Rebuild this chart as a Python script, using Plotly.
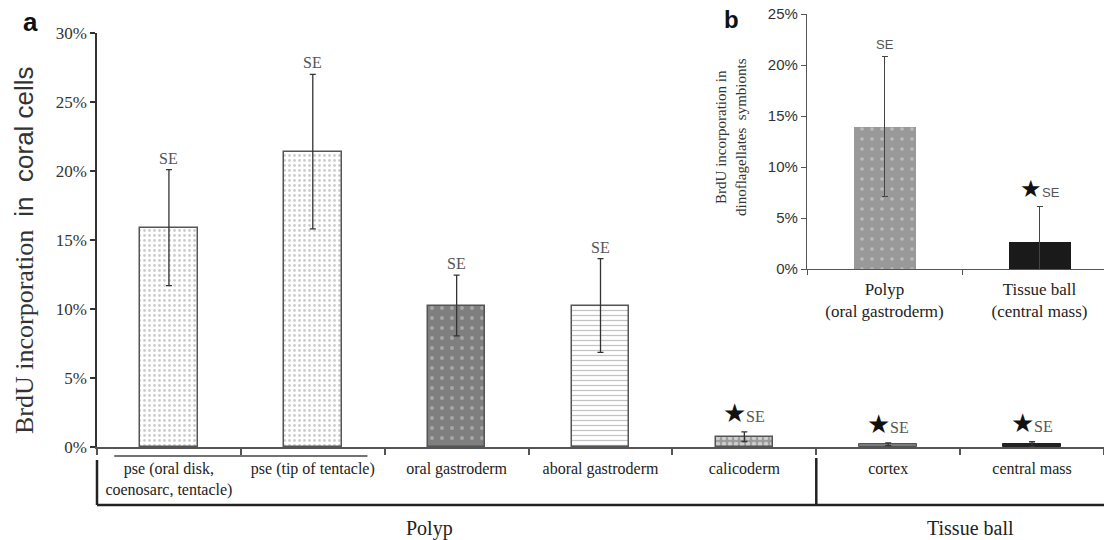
import plotly.graph_objects as go

# ---- Panel a data ----
cats_a = ["pse (oral disk,<br>coenosarc, tentacle)", "pse (tip of tentacle)", "oral gastroderm",
          "aboral gastroderm", "calicoderm", "cortex", "central mass"]
vals_a = [0.159, 0.214, 0.1025, 0.1025, 0.0075, 0.002, 0.002]
se_a = [0.042, 0.056, 0.022, 0.034, 0.0035, 0.001, 0.0018]
star_a = [False, False, False, False, True, True, True]
yticks_a = [0, 0.05, 0.10, 0.15, 0.20, 0.25, 0.30]
yticktext_a = ["0%", "5%", "10%", "15%", "20%", "25%", "30%"]
groups = ["Polyp", "Tissue ball"]
group_pos = [1.81, 5.57]

# ---- Panel b data ----
cats_b = ["Polyp<br>(oral gastroderm)", "Tissue ball<br>(central mass)"]
vals_b = [0.1395, 0.026]
se_b = [0.0685, 0.035]
star_b = [False, True]
yticks_b = [0, 0.05, 0.10, 0.15, 0.20, 0.25]
yticktext_b = ["0%", "5%", "10%", "15%", "20%", "25%"]

W, H = 1104, 540
SERIF = "Liberation Serif, Times New Roman, serif"
SANS = "Liberation Sans, Arial, sans-serif"

def px(x):
    return x / W

def py(y):
    return 1 - y / H

# bar styles panel a
styles_a = [
    dict(color="white", line=dict(color="#555", width=1.5),
         pattern=dict(shape=".", fgcolor="#9a9a9a", bgcolor="white", size=5, solidity=0.25)),
    dict(color="white", line=dict(color="#555", width=1.5),
         pattern=dict(shape=".", fgcolor="#9a9a9a", bgcolor="white", size=5, solidity=0.25)),
    dict(color="#7f7f7f", line=dict(color="#555", width=1.5),
         pattern=dict(shape=".", fgcolor="#d0d0d0", bgcolor="#7f7f7f", size=10, solidity=0.12)),
    dict(color="white", line=dict(color="#555", width=1.5),
         pattern=dict(shape="-", fgcolor="#888", bgcolor="white", size=5, solidity=0.25)),
    dict(color="#999", line=dict(color="#555", width=1.5),
         pattern=dict(shape=".", fgcolor="white", bgcolor="#9a9a9a", size=6, solidity=0.45)),
    dict(color="#7a7a7a", line=dict(color="#555", width=1)),
    dict(color="#222", line=dict(color="#222", width=1)),
]

fig = go.Figure()

for i in range(len(cats_a)):
    fig.add_trace(go.Bar(
        x=[cats_a[i]], y=[vals_a[i]], width=0.4, marker=styles_a[i],
        error_y=dict(type="data", array=[se_a[i]], visible=True, color="#333",
                     thickness=1.3, width=3),
        xaxis="x", yaxis="y", showlegend=False, hoverinfo="skip"))

styles_b = [
    dict(color="#999", line=dict(width=0),
         pattern=dict(shape=".", fgcolor="#e0e0e0", bgcolor="#999", size=10, solidity=0.1)),
    dict(color="#1a1a1a", line=dict(width=0)),
]
for i in range(len(cats_b)):
    fig.add_trace(go.Bar(
        x=[cats_b[i]], y=[vals_b[i]], width=0.4, marker=styles_b[i],
        error_y=dict(type="data", array=[se_b[i]], visible=True, color="#444",
                     thickness=1.3, width=3),
        xaxis="x2", yaxis="y2", showlegend=False, hoverinfo="skip"))

annotations = []
# SE labels panel a
for i, c in enumerate(cats_a):
    if star_a[i]:
        txt = "<span style='font-size:26px;color:#111'>★</span>SE"
        ys = 2
    else:
        txt = "SE"
        ys = 1
    annotations.append(dict(x=c, y=vals_a[i] + se_a[i], xref="x", yref="y", text=txt,
                            showarrow=False, yanchor="bottom", yshift=ys,
                            font=dict(family=SERIF, size=16, color="#555")))
# SE labels panel b
for i, c in enumerate(cats_b):
    if star_b[i]:
        txt = "<span style='font-size:24px;color:#111'>★</span>SE"
    else:
        txt = "SE"
    annotations.append(dict(x=c, y=vals_b[i] + se_b[i], xref="x2", yref="y2", text=txt,
                            showarrow=False, yanchor="bottom", yshift=3,
                            font=dict(family=SANS, size=13, color="#555")))

# group labels
for g, p in zip(groups, group_pos):
    annotations.append(dict(x=p, y=py(528), xref="x", yref="paper", text=g, showarrow=False,
                            yanchor="middle",
                            font=dict(family=SERIF, size=20, color="#222")))

# axis titles
annotations.append(dict(x=px(24), y=py(250), xref="paper", yref="paper", textangle=-90,
                        showarrow=False, xanchor="center", yanchor="middle",
                        text="BrdU incorporation  <span style='font-family:Liberation Sans, Arial, sans-serif'>in  coral cells</span>",
                        font=dict(family=SERIF, size=26, color="#333")))
annotations.append(dict(x=px(731), y=py(137), xref="paper", yref="paper", textangle=-90,
                        showarrow=False, xanchor="center", yanchor="middle",
                        text="BrdU incorporation in<br>dinoflagellates  symbionts",
                        font=dict(family=SERIF, size=15, color="#333")))
# panel letters
annotations.append(dict(x=px(30), y=py(22), xref="paper", yref="paper", text="<b>a</b>",
                        showarrow=False, xanchor="center", yanchor="middle",
                        font=dict(family=SANS, size=26, color="#111")))
annotations.append(dict(x=px(731), y=py(19), xref="paper", yref="paper", text="<b>b</b>",
                        showarrow=False, xanchor="center", yanchor="middle",
                        font=dict(family=SANS, size=24, color="#111")))

shapes = [
    # short line under first two labels
    dict(type="line", xref="x", yref="paper", x0=-0.38, x1=1.38, y0=py(456), y1=py(456),
         line=dict(color="#444", width=1.5)),
    # bracket bottom line
    dict(type="line", xref="paper", yref="paper", x0=px(97), x1=1, y0=py(505), y1=py(505),
         line=dict(color="#222", width=2.5)),
    # left vertical
    dict(type="line", xref="paper", yref="paper", x0=px(97), x1=px(97), y0=py(460), y1=py(505),
         line=dict(color="#222", width=2.5)),
    # separator
    dict(type="line", xref="x", yref="paper", x0=4.5, x1=4.5, y0=py(458), y1=py(505),
         line=dict(color="#222", width=2.5)),
]

fig.update_layout(
    width=W, height=H, margin=dict(l=0, r=0, t=0, b=0, pad=0),
    paper_bgcolor="white", plot_bgcolor="rgba(0,0,0,0)",
    barmode="overlay", bargap=0,
    annotations=annotations, shapes=shapes,
    xaxis=dict(domain=[px(97), 1], anchor="y", type="category", range=[-0.5, 6.5],
               categoryorder="array", categoryarray=cats_a, automargin=False,
               showline=True, linecolor="#555", linewidth=1.5,
               ticks="outside", tickson="boundaries", ticklen=6, tickcolor="#555", tickwidth=1.5,
               ticklabelstandoff=6, tickangle=0,
               tickfont=dict(family=SERIF, size=16, color="#222"),
               showgrid=False, zeroline=False, fixedrange=True),
    yaxis=dict(domain=[py(447), py(33)], anchor="x", range=[0, 0.30], automargin=False,
               tickvals=yticks_a, ticktext=yticktext_a,
               showline=True, linecolor="#333", linewidth=1.5,
               ticks="outside", ticklen=5, tickcolor="#333", tickwidth=1.5,
               tickfont=dict(family=SERIF, size=17, color="#333"),
               showgrid=False, zeroline=False, fixedrange=True),
    xaxis2=dict(domain=[px(807), 1], anchor="y2", type="category", range=[-0.5, 1.416],
                categoryorder="array", categoryarray=cats_b, automargin=False,
                showline=True, linecolor="#555", linewidth=1.3,
                ticks="outside", tickson="boundaries", ticklen=5, tickcolor="#555", tickwidth=1.3,
                ticklabelstandoff=4, tickangle=0,
                tickfont=dict(family=SERIF, size=17, color="#222"),
                showgrid=False, zeroline=False, fixedrange=True),
    yaxis2=dict(domain=[py(269), py(14)], anchor="x2", range=[0, 0.25], automargin=False,
                tickvals=yticks_b, ticktext=yticktext_b,
                showline=True, linecolor="#555", linewidth=1.3,
                ticks="outside", ticklen=5, tickcolor="#555", tickwidth=1.3,
                tickfont=dict(family=SANS, size=15, color="#333"),
                showgrid=False, zeroline=False, fixedrange=True),
)

fig.write_html("out.html")
